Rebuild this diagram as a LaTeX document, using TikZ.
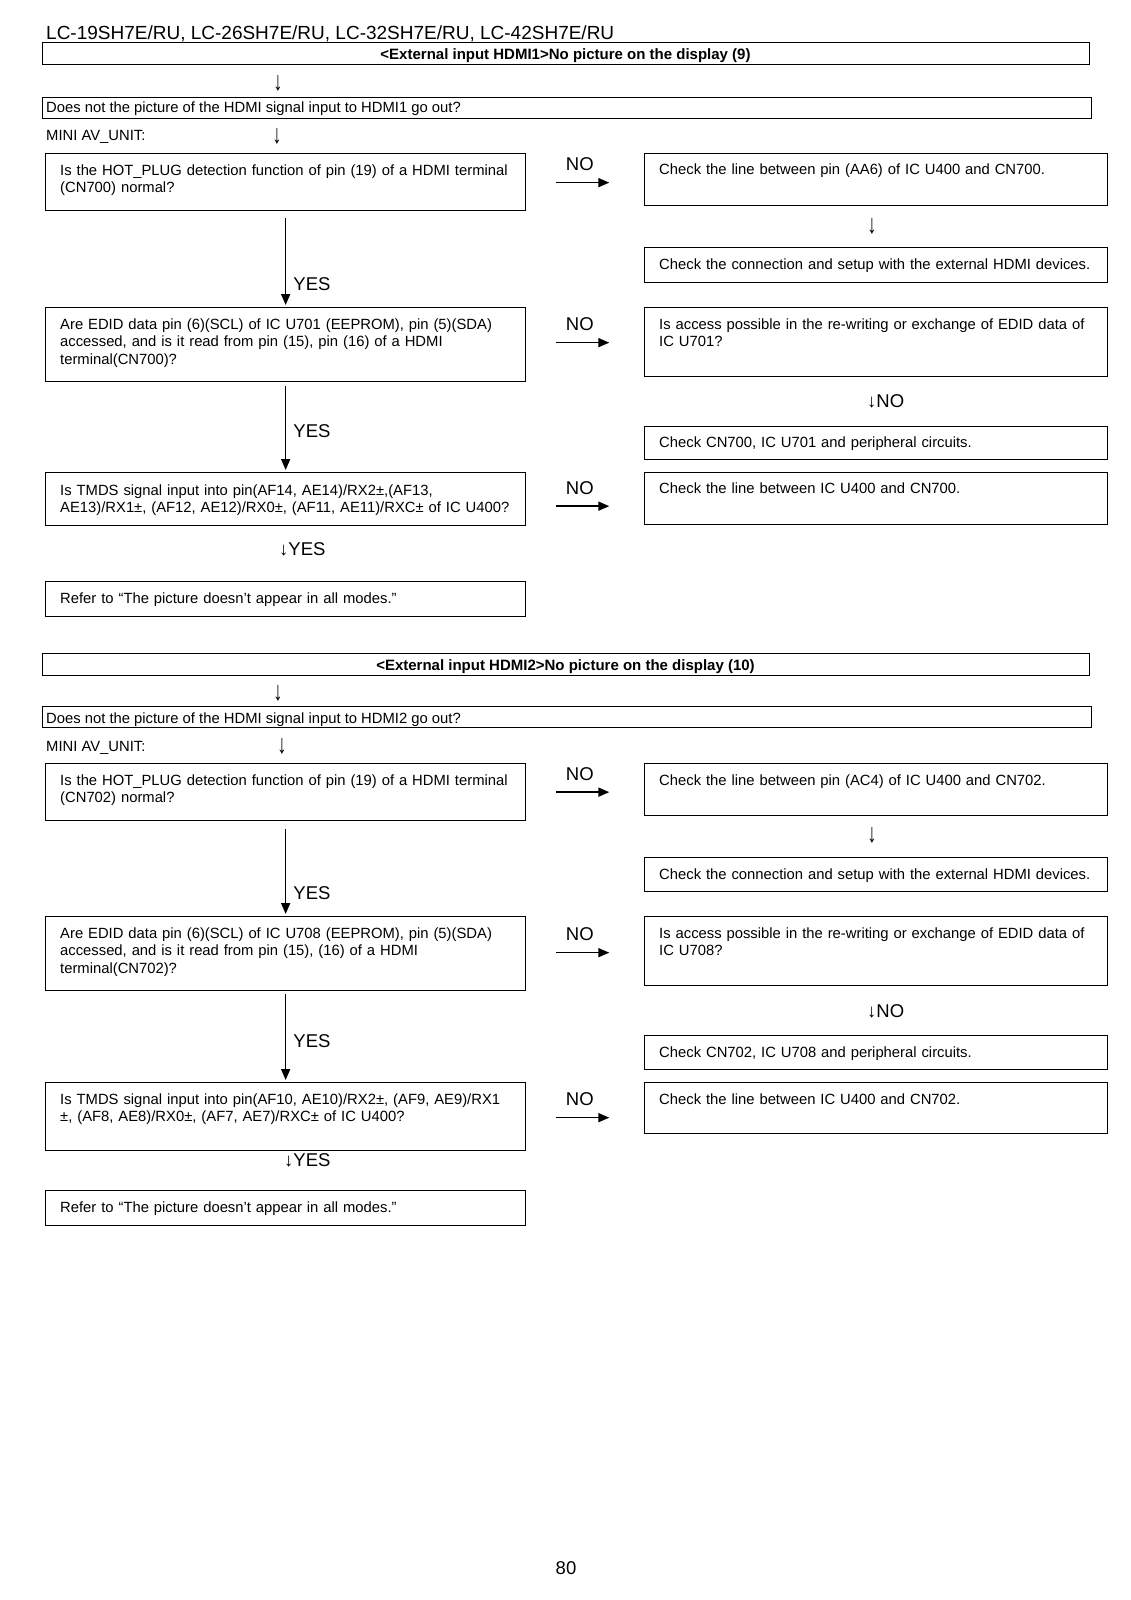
\documentclass[tikz,border=0pt]{standalone}
\usepackage{fontspec}
\setmainfont{Liberation Sans}
\usetikzlibrary{arrows.meta,calc}
\newcommand\bodyf{\fontsize{14.8}{17.5}\selectfont}
\newcommand\lblf{\fontsize{18.5}{20}\selectfont}
\newcommand\hdrf{\fontsize{15}{17}\selectfont\bfseries}
\newcommand\titf{\fontsize{19}{22}\selectfont}
\newcommand\dn{\scalebox{1}[1.45]{↓}}
\begin{document}
\begin{tikzpicture}[x=1pt,y=-1pt,
 box/.style={draw, line width=1.3pt, inner sep=0, anchor=north west},
 qbox/.style={box, minimum width=480, minimum height=#1},
 rbox/.style={box, minimum width=463, minimum height=#1},
 txt/.style={font=\bodyf, text width=#1, align=left, anchor=base west, inner sep=0},
 plain/.style={font=\bodyf, inner sep=0, anchor=base west},
 lbl/.style={font=\lblf, inner sep=0},
 nolbl/.style={lbl, midway, above=11pt, xshift=-3pt},
 arr/.style={line width=1.6pt, -{Triangle[length=11pt,width=9pt]}},
 hdr/.style={draw, line width=1pt, minimum width=1047, minimum height=22, inner sep=0, font=\hdrf, text height=11pt, text depth=0pt},
 wide/.style={draw, line width=1pt, minimum width=1049, minimum height=21, inner sep=0, anchor=north west},
]
\fill[white] (0,0) rectangle (1131,1600);
\useasboundingbox (0,0) rectangle (1131,1600);

\node[font=\titf, anchor=base west, inner sep=0] (title) at (46,40) {LC-19SH7E/RU, LC-26SH7E/RU, LC-32SH7E/RU, LC-42SH7E/RU};

% ---------------- Section 1 ----------------
\node[hdr] (h1) at (565.5,54) {<External input HDMI1>No picture on the display (9)};
\node[lbl] (d1) at (278,83) {\dn};
\node[wide] (w1) at (42,97) {};
\node[plain] (w1t) at (46,113) {Does not the picture of the HDMI signal input to HDMI1 go out?};
\node[plain] (m1) at (46,141) {MINI AV\_UNIT:};
\node[lbl] (d2) at (277,136) {\dn};

\node[qbox=57] (q1) at (45,153) {};
\node[txt=465] (q1t) at ($(q1.north west)+(15,22)$) {Is the HOT\_PLUG detection function of pin (19) of a HDMI terminal\\(CN700) normal?};
\node[rbox=52] (r1) at (644,153) {};
\node[txt=445] (r1t) at ($(r1.north west)+(15,21)$) {Check the line between pin (AA6) of IC U400 and CN700.};
\node[lbl] (d3) at (872,226) {\dn};
\node[rbox=35] (r2) at (644,247) {};
\node[txt=445] (r2t) at ($(r2.north west)+(15,22)$) {Check the connection and setup with the external HDMI devices.};

\node[qbox=74] (q2) at (45,307) {};
\node[txt=465] (q2t) at ($(q2.north west)+(15,22)$) {Are EDID data pin (6)(SCL) of IC U701 (EEPROM), pin (5)(SDA)\\accessed, and is it read from pin (15), pin (16) of a HDMI\\terminal(CN700)?};
\node[rbox=69] (r3) at (644,307) {};
\node[txt=445] (r3t) at ($(r3.north west)+(15,22)$) {Is access possible in the re-writing or exchange of EDID data of\\IC U701?};
\node[lbl, anchor=west] (d4) at (867,401) {↓NO};
\node[rbox=33] (r4) at (644,426) {};
\node[txt=445] (r4t) at ($(r4.north west)+(15,21)$) {Check CN700, IC U701 and peripheral circuits.};

\node[qbox=53] (q3) at (45,472) {};
\node[txt=465] (q3t) at ($(q3.north west)+(15,23)$) {Is TMDS signal input into pin(AF14, AE14)/RX2±,(AF13,\\AE13)/RX1±, (AF12, AE12)/RX0±, (AF11, AE11)/RXC± of IC U400?};
\node[rbox=52] (r5) at (644,472) {};
\node[txt=445] (r5t) at ($(r5.north west)+(15,21)$) {Check the line between IC U400 and CN700.};
\node[lbl, anchor=west] (d5) at (279,549) {↓YES};
\node[qbox=35] (q4) at (45,581) {};
\node[txt=465] (q4t) at ($(q4.north west)+(15,22)$) {Refer to “The picture doesn't appear in all modes.”};

\draw[arr] (q1.east) ++(30,0.5) -- ++(53,0) node[nolbl] (n1) {NO};
\draw[arr] (q2.east) ++(30,-2) -- ++(53,0) node[nolbl] (n2) {NO};
\draw[arr] (q3.east) ++(30,7) -- ++(53,0) node[nolbl] (n3) {NO};
\draw[arr, shorten >=2pt] (q1.south) ++(0,7) -- (q2.north) node[pos=0.74, right=7pt, lbl] (y1) {YES};
\draw[arr, shorten >=2pt] (q2.south) ++(0,4) -- (q3.north) node[pos=0.52, right=7pt, lbl] (y2) {YES};

% ---------------- Section 2 ----------------
\node[hdr] (h2) at (565.5,664.5) {<External input HDMI2>No picture on the display (10)};
\node[lbl] (e1) at (278,693) {\dn};
\node[wide] (w2) at (42,706) {};
\node[plain] (w2t) at (46,723) {Does not the picture of the HDMI signal input to HDMI2 go out?};
\node[plain] (m2) at (46,751) {MINI AV\_UNIT:};
\node[lbl] (e2) at (282,746) {\dn};

\node[qbox=57] (p1) at (45,763) {};
\node[txt=465] (p1t) at ($(p1.north west)+(15,22)$) {Is the HOT\_PLUG detection function of pin (19) of a HDMI terminal\\(CN702) normal?};
\node[rbox=52] (s1) at (644,763) {};
\node[txt=445] (s1t) at ($(s1.north west)+(15,22)$) {Check the line between pin (AC4) of IC U400 and CN702.};
\node[lbl] (e3) at (872,835) {\dn};
\node[rbox=34] (s2) at (644,857) {};
\node[txt=445] (s2t) at ($(s2.north west)+(15,22)$) {Check the connection and setup with the external HDMI devices.};

\node[qbox=74] (p2) at (45,916) {};
\node[txt=465] (p2t) at ($(p2.north west)+(15,22)$) {Are EDID data pin (6)(SCL) of IC U708 (EEPROM), pin (5)(SDA)\\accessed, and is it read from pin (15), (16) of a HDMI\\terminal(CN702)?};
\node[rbox=69] (s3) at (644,916) {};
\node[txt=445] (s3t) at ($(s3.north west)+(15,22)$) {Is access possible in the re-writing or exchange of EDID data of\\IC U708?};
\node[lbl, anchor=west] (e4) at (867,1011) {↓NO};
\node[rbox=34] (s4) at (644,1035) {};
\node[txt=445] (s4t) at ($(s4.north west)+(15,22)$) {Check CN702, IC U708 and peripheral circuits.};

\node[qbox=68] (p3) at (45,1082) {};
\node[txt=465] (p3t) at ($(p3.north west)+(15,22)$) {Is TMDS signal input into pin(AF10, AE10)/RX2±, (AF9, AE9)/RX1\\±, (AF8, AE8)/RX0±, (AF7, AE7)/RXC± of IC U400?};
\node[rbox=51] (s5) at (644,1082) {};
\node[txt=445] (s5t) at ($(s5.north west)+(15,22)$) {Check the line between IC U400 and CN702.};
\node[lbl, anchor=west] (e5) at (284,1160) {↓YES};
\node[qbox=35] (p4) at (45,1190) {};
\node[txt=465] (p4t) at ($(p4.north west)+(15,22)$) {Refer to “The picture doesn't appear in all modes.”};

\draw[arr] (p1.east) ++(30,0) -- ++(53,0) node[nolbl] (o1) {NO};
\draw[arr] (p2.east) ++(30,-1) -- ++(53,0) node[nolbl] (o2) {NO};
\draw[arr] (p3.east) ++(30,1) -- ++(53,0) node[nolbl] (o3) {NO};
\draw[arr, shorten >=2pt] (p1.south) ++(0,8) -- (p2.north) node[pos=0.74, right=7pt, lbl] (z1) {YES};
\draw[arr, shorten >=2pt] (p2.south) ++(0,3) -- (p3.north) node[pos=0.53, right=7pt, lbl] (z2) {YES};

\node[lbl] (pg) at (566,1568) {80};
\end{tikzpicture}
\end{document}
